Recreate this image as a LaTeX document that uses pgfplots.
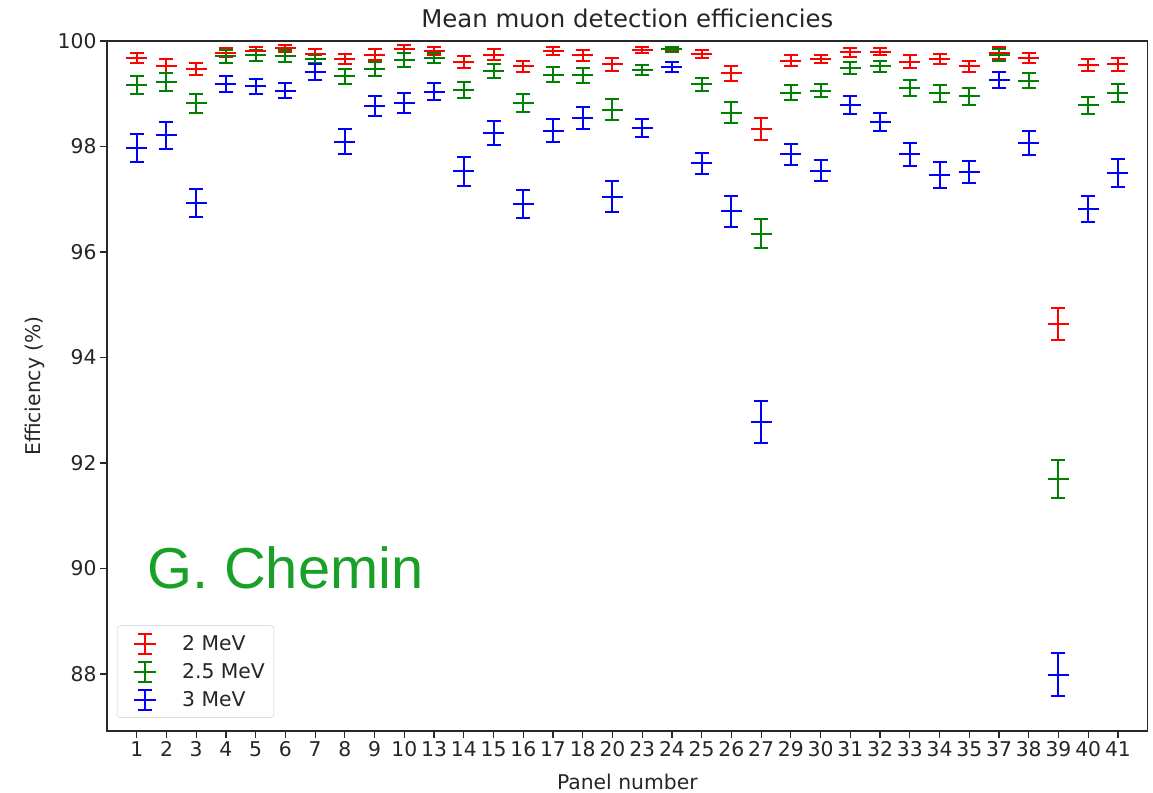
\documentclass[border=0pt]{standalone}
\usepackage{pgfplots}
\pgfplotsset{compat=1.18}
\usepackage{pgfplotstable}
\usepackage{fontspec}
\setmainfont{DejaVu Sans}
\newfontfamily\signfont{Liberation Sans}

\definecolor{mplred}{rgb}{1,0,0}
\definecolor{mplgreen}{rgb}{0,0.5,0}
\definecolor{mplblue}{rgb}{0,0,1}
\definecolor{signgreen}{RGB}{25,160,40}
\definecolor{framegray}{RGB}{40,40,40}

% mean efficiency (%) and its error for each panel, three thresholds
\pgfplotstableread{
idx lab r re g ge b be
0 1 99.68 0.10 99.17 0.17 97.97 0.26
1 2 99.52 0.13 99.23 0.17 98.21 0.25
2 3 99.47 0.12 98.82 0.18 96.93 0.27
3 4 99.78 0.09 99.71 0.12 99.18 0.15
4 5 99.81 0.07 99.73 0.10 99.14 0.145
5 6 99.86 0.06 99.71 0.11 99.06 0.15
6 7 99.75 0.095 99.66 0.08 99.41 0.15
7 8 99.66 0.10 99.33 0.145 98.09 0.24
8 9 99.74 0.10 99.47 0.14 98.76 0.19
9 10 99.85 0.07 99.64 0.13 98.82 0.19
10 13 99.81 0.08 99.68 0.10 99.04 0.155
11 14 99.60 0.11 99.07 0.16 97.53 0.27
12 15 99.74 0.10 99.43 0.13 98.25 0.23
13 16 99.52 0.11 98.82 0.17 96.91 0.26
14 17 99.81 0.08 99.36 0.14 98.30 0.22
15 18 99.73 0.10 99.35 0.14 98.54 0.21
16 20 99.56 0.12 98.70 0.20 97.05 0.29
17 23 99.83 0.06 99.45 0.10 98.35 0.17
18 24 99.85 0.04 99.84 0.05 99.51 0.095
19 25 99.75 0.07 99.18 0.12 97.68 0.20
20 26 99.39 0.14 98.64 0.20 96.77 0.29
21 27 98.33 0.21 96.35 0.28 92.77 0.40
22 29 99.63 0.095 99.02 0.14 97.85 0.20
23 30 99.66 0.08 99.06 0.13 97.54 0.20
24 31 99.79 0.085 99.49 0.11 98.79 0.17
25 32 99.80 0.07 99.52 0.11 98.47 0.17
26 33 99.61 0.12 99.11 0.15 97.85 0.22
27 34 99.66 0.10 99.01 0.16 97.46 0.25
28 35 99.52 0.11 98.95 0.16 97.51 0.21
29 37 99.77 0.11 99.74 0.11 99.26 0.15
30 38 99.67 0.095 99.25 0.15 98.06 0.23
31 39 94.64 0.30 91.70 0.36 87.99 0.40
32 40 99.55 0.11 98.78 0.16 96.82 0.25
33 41 99.56 0.12 99.01 0.17 97.50 0.27
}\eff

% error bar glyph for the legend: vertical bar, caps and centre tick
\newcommand{\errglyph}[1]{%
  \path[draw=none, fill=none] (0bp,-1bp) rectangle (56bp,1bp);
  \draw[#1, line width=2bp] (21bp,-10bp) -- (21bp,10bp);
  \draw[#1, line width=2bp] (14bp,-10bp) -- (28bp,-10bp);
  \draw[#1, line width=2bp] (14bp,10bp) -- (28bp,10bp);
  \draw[#1, line width=2bp] (10bp,0bp) -- (32bp,0bp);
}

\pgfplotsset{
  errstyle/.style={
    only marks, mark=-, mark size=10.5bp, color=#1,
    mark options={line width=2bp},
    error bars/.cd, y dir=both, y explicit,
    error bar style={line width=2bp, #1},
    error mark options={rotate=90, mark size=7bp, line width=2bp, #1},
  },
}

\begin{document}
\begin{tikzpicture}
\useasboundingbox (0bp,0bp) rectangle (1153bp,793bp);
\begin{axis}[
  at={(107bp,62bp)}, anchor=south west,
  width=1040.7bp, height=690bp, scale only axis,
  xmin=-1, xmax=34, ymin=86.92, ymax=100,
  xtick={0,...,33},
  xticklabels={1,2,3,4,5,6,7,8,9,10,13,14,15,16,17,18,20,23,24,25,26,27,29,30,31,32,33,34,35,37,38,39,40,41},
  ytick={88,90,...,100},
  minor tick num=0,
  tick pos=left,
  tick align=outside, major tick length=7bp,
  tick style={line width=1.2bp, framegray},
  axis line style={line width=1.2bp, framegray},
  /pgf/number format/assume math mode=true,
  every tick label/.append style={font=\fontsize{20.4}{24}\selectfont, text=black!85},
  title={Mean muon detection efficiencies},
  title style={font=\fontsize{24.5}{28}\selectfont, text=black!85, at={(axis description cs:0.5,1.0246)}, anchor=center},
  xlabel={Panel number},
  xlabel style={font=\fontsize{20.4}{24}\selectfont, text=black!85, at={(axis description cs:0.5,-0.074)}, anchor=center},
  ylabel={Efficiency (\%)},
  ylabel style={font=\fontsize{20.4}{24}\selectfont, text=black!85, at={(axis description cs:-0.069,0.5)}, anchor=center},
  legend style={at={(axis description cs:0.0096,0.019)}, anchor=south west,
    draw=black!20, rounded corners=3bp, fill=white,
    font=\fontsize{20.4}{24}\selectfont, text=black!85,
    inner xsep=7bp, inner ysep=7bp, row sep=6bp},
  legend cell align=left,
]
\addplot[legend image code/.code={\errglyph{mplred}}, errstyle=mplred]
  table[x=idx, y=r, y error=re]{\eff};
\addlegendentry{2 MeV}
\addplot[legend image code/.code={\errglyph{mplgreen}}, errstyle=mplgreen]
  table[x=idx, y=g, y error=ge]{\eff};
\addlegendentry{2.5 MeV}
\addplot[legend image code/.code={\errglyph{mplblue}}, errstyle=mplblue]
  table[x=idx, y=b, y error=be]{\eff};
\addlegendentry{3 MeV}
\end{axis}
\node[anchor=base west, inner sep=0pt, text=signgreen,
      font=\signfont\fontsize{58}{62}\selectfont] at (147bp,204bp) {G. Chemin};
\end{tikzpicture}
\end{document}
